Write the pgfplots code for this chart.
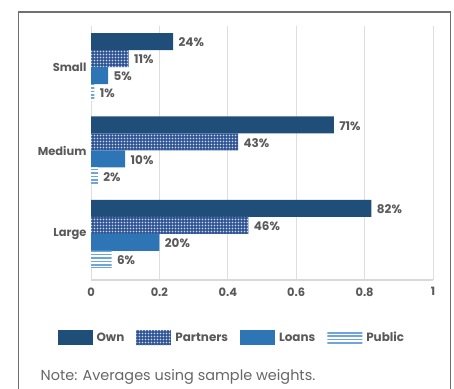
\documentclass[border=0pt]{standalone}
\usepackage{fontspec}
\setmainfont{Poppins}
\usepackage{pgfplots}
\pgfplotsset{compat=1.18}
\usetikzlibrary{patterns.meta}
\definecolor{own}{HTML}{1F4E79}
\definecolor{partners}{HTML}{2F5597}
\definecolor{loans}{HTML}{2E75B6}
\definecolor{public}{HTML}{6FA5DC}
\definecolor{txt}{HTML}{595959}
\definecolor{frame}{HTML}{707070}
\tikzdeclarepattern{name=mydots, type=uncolored,
  bottom left={(-.1pt,-.1pt)}, top right={(3.1bp,3.1bp)}, tile size={(3bp,3bp)},
  code={\fill (1.5bp,1.5bp) circle (0.8bp);}}
\tikzdeclarepattern{name=mylines, type=uncolored,
  bottom left={(-.1pt,-.1pt)}, top right={(4.1bp,3.5bp)}, tile size={(4bp,3.4bp)},
  code={\fill (-0.1bp,0.9bp) rectangle (4.1bp,2.5bp);}}
\begin{document}
\begin{tikzpicture}
\path[use as bounding box] (0,0) rectangle (454bp,-389bp);
\draw[frame, line width=1.3bp] (18.3bp,-395bp) -- (18.3bp,-12bp) -- (450.5bp,-12bp) -- (450.5bp,-395bp);
\begin{axis}[
  at={(91bp,-280bp)}, anchor=south west,
  scale only axis, width=342bp, height=254bp,
  xmin=0, xmax=1, ymin=-0.551, ymax=2.491,
  xbar, bar width=17bp,
  /pgf/number format/assume math mode=true,
  xtick={0,0.2,0.4,0.6,0.8,1},
  xticklabels={0,0.2,0.4,0.6,0.8,1},
  ytick={0,1,2}, yticklabels={Large,Medium,Small},
  major tick length=0,
  tick label style={font=\fontsize{11.5}{13}\selectfont\bfseries, text=txt},
  xticklabel style={yshift=-4bp},
  yticklabel style={xshift=-1bp},
  xmajorgrids, grid style={black!13, line width=0.8bp},
  axis x line*=bottom, axis y line*=left,
  x axis line style={black!15, line width=1.6bp, -},
  y axis line style={draw=none},
  point meta={x*100},
  nodes near coords={\pgfmathprintnumber[fixed,precision=0]{\pgfplotspointmeta}\%},
  every node near coord/.append style={font=\fontsize{12}{14}\selectfont\bfseries, text=txt, anchor=west, xshift=2bp, yshift=-1bp},
  legend columns=4,
  legend style={at={(0.412,-0.228)}, anchor=center, draw=none, fill=none,
    font=\fontsize{12}{14}\selectfont\bfseries, text=txt,
    /tikz/every odd column/.append style={column sep=2bp},
    /tikz/every even column/.append style={column sep=10bp}},
  legend image code/.code={\path[#1, draw=none] (0bp,-7.5bp) rectangle (35bp,7.5bp);},
]
\addplot[fill=own, draw=none, bar shift=25.5bp] coordinates {(0.24,2) (0.71,1) (0.82,0)};
\addplot[fill=partners, draw=none, bar shift=8.5bp, postaction={pattern=mydots, pattern color=white!80!partners}] coordinates {(0.11,2) (0.43,1) (0.46,0)};
\addplot[fill=loans, draw=none, bar shift=-8.5bp] coordinates {(0.05,2) (0.10,1) (0.20,0)};
\addplot[fill=white, draw=none, bar shift=-25.5bp, postaction={pattern=mylines, pattern color=public}] coordinates {(0.01,2) (0.02,1) (0.06,0)};
\legend{Own,Partners,Loans,Public}
\end{axis}
\node[anchor=west, text=black!60, font=\fontsize{14.5}{17}\selectfont, inner sep=0pt] at (40.5bp,-377bp) {Note: Averages using sample weights.};
\end{tikzpicture}
\end{document}
